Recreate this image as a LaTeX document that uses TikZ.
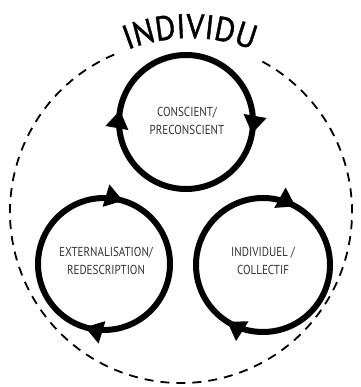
\documentclass[tikz,border=0pt]{standalone}
\usepackage{fontspec}
\setmainfont{PT Sans}
\newfontfamily\titlefont[FakeStretch=0.92,FakeBold=1.2]{PT Sans}
\newfontfamily\labelfont[FakeStretch=0.85]{PT Sans}
\usetikzlibrary{arrows.meta,decorations.markings,decorations.text}
\tikzset{
  loopcircle/.style={line width=6pt, draw=black},
  looptext/.style={align=center, font=\labelfont\fontsize{13}{18}\selectfont, text=black!80},
  outer/.style={line width=1.8pt, dash pattern=on 9pt off 7pt},
  head/.tip={Triangle[length=18pt,width=22pt]}
}
\begin{document}
\begin{tikzpicture}[x=1pt,y=1pt]
\useasboundingbox (0,0) rectangle (360,387);
% outer dashed circle
\coordinate (oc) at (181,175);
\draw[outer] (oc) ++(113:171pt) arc[start angle=113, end angle=422, radius=171pt];
% title along arc
\coordinate (tc) at (190,179);
\path[decorate, decoration={text along path, text align=center,
  text={|\titlefont\fontsize{34}{34}\selectfont|INDIVIDU}}]
  (tc) ++(130:170pt) arc[start angle=130, end angle=50, radius=170pt];
% three cycles
\coordinate (c1) at (186,265);
\coordinate (c2) at (104,123);
\coordinate (c3) at (263,122);
\draw[loopcircle, postaction={decorate}, decoration={markings,
  mark=at position 0.472 with {\arrowreversed{head}},
  mark=at position 0.972 with {\arrowreversed{head}}}]
  (c1) circle[radius=67pt];
\draw[loopcircle, postaction={decorate}, decoration={markings,
  mark=at position 0.203 with {\arrowreversed{head}},
  mark=at position 0.703 with {\arrowreversed{head}}}]
  (c2) circle[radius=66pt];
\draw[loopcircle, postaction={decorate}, decoration={markings,
  mark=at position 0.169 with {\arrowreversed{head}},
  mark=at position 0.66 with {\arrowreversed{head}}}]
  (c3) circle[radius=67pt];
\node[looptext] (t1) at (187,266) {CONSCIENT/\\PRECONSCIENT};
\node[looptext] (t2) at (106,126) {EXTERNALISATION/\\REDESCRIPTION};
\node[looptext] (t3) at (263,126) {INDIVIDUEL /\\COLLECTIF};
\end{tikzpicture}
\end{document}
